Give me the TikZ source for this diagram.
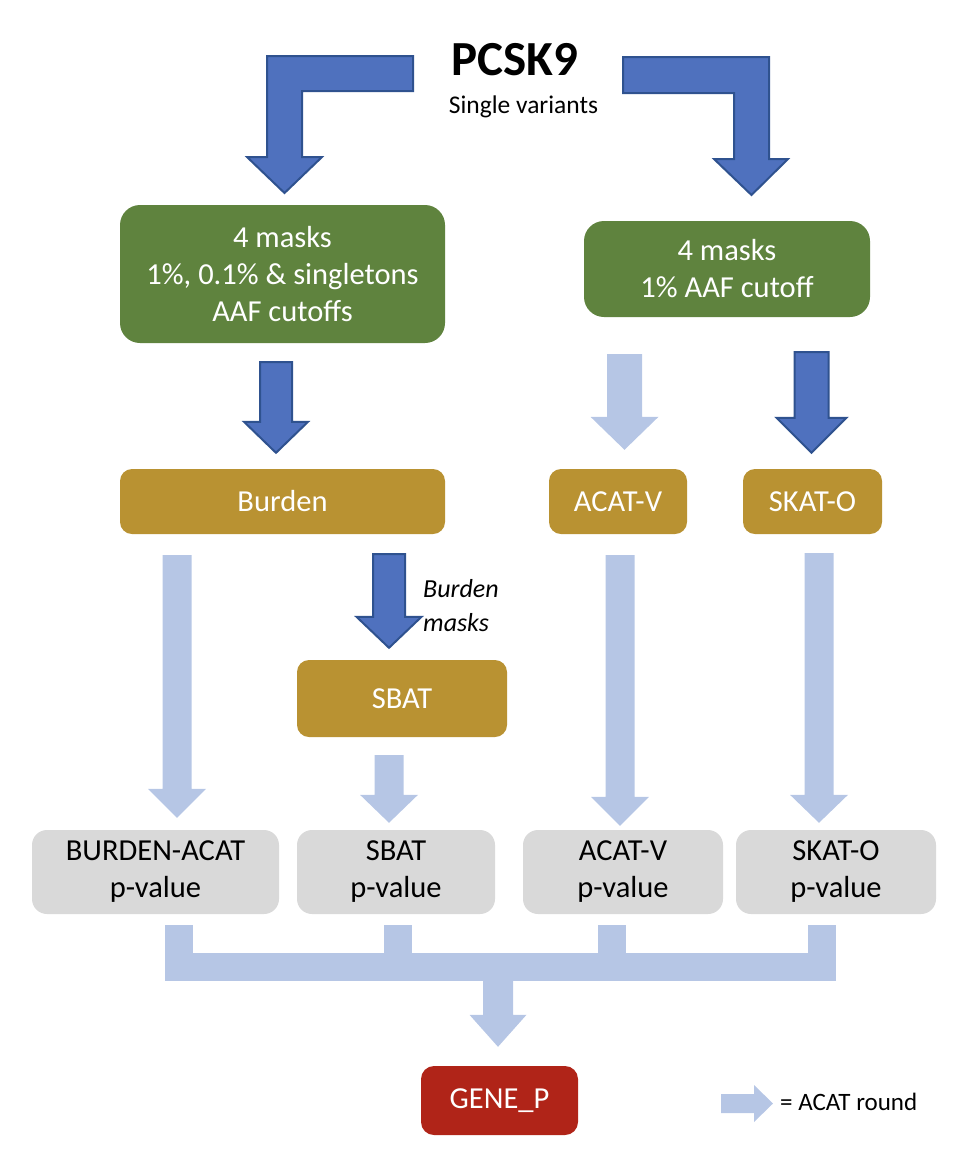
\documentclass[tikz,border=0pt]{standalone}
\usepackage{fontspec}
\setmainfont{Carlito}
\usetikzlibrary{calc}
\usetikzlibrary{positioning}

\definecolor{maskgreen}{RGB}{95,131,62}
\definecolor{testgold}{RGB}{185,146,50}
\definecolor{pgrey}{RGB}{217,217,217}
\definecolor{genered}{RGB}{176,36,24}
\definecolor{arrowblue}{RGB}{79,113,190}
\definecolor{arrowedge}{RGB}{47,82,143}
\definecolor{acatblue}{RGB}{182,198,229}

% vertical block arrow: [style]{top}{tip}{shaft half}{head half}{head length}
\newcommand{\blockdown}[6][]{%
  \path[#1] let \p1=(#2), \p2=(#3) in
    (\x1-#4pt,\y1) -- (\x1+#4pt,\y1) -- (\x1+#4pt,\y2+#6pt) -- (\x1+#5pt,\y2+#6pt)
    -- (\x1,\y2) -- (\x1-#5pt,\y2+#6pt) -- (\x1-#4pt,\y2+#6pt) -- cycle;}

\begin{document}
\begin{tikzpicture}[x=1pt,y=-1pt,
            box/.style = {rounded corners=12pt,inner sep=0pt,align=center,
                text=white,font=\fontsize{30.5}{37}\selectfont},
            maskbox/.style = {box,fill=maskgreen,rounded corners=20pt},
            testbox/.style = {box,fill=testgold,minimum height=65pt},
            pbox/.style = {box,fill=pgrey,text=black,rounded corners=15pt,
                minimum height=84pt},
            genebox/.style = {box,fill=genered,rounded corners=13pt},
            darkarrow/.style = {fill=arrowblue,draw=arrowedge,line width=2pt},
            acatarrow/.style = {fill=acatblue},
            acatline/.style = {draw=acatblue,line width=28pt}]
            \useasboundingbox (0,0) rectangle (964,1160);
            \node[anchor=base,inner sep=0pt,font=\fontsize{49}{52}\selectfont\bfseries]
                (pcsk9) at (515,75) {PCSK9};
            \node[anchor=base,inner sep=0pt,font=\fontsize{25.5}{30}\selectfont]
                (single) at (523.5,113) {Single variants};
            \node[maskbox,minimum width=325pt,minimum height=138pt] (masksL) at (282.5,274)
                {4 masks\\1\%, 0.1\% \& singletons\\AAF cutoffs};
            \node[maskbox,minimum width=286pt,minimum height=96pt] (masksR) at (727,269)
                {4 masks\\1\% AAF cutoff};
            \node[testbox,minimum width=325pt] (burden) at (282.5,501.5) {Burden};
            \node[testbox,minimum width=138pt] (acatv) at (618,501.5) {ACAT-V};
            \node[testbox,minimum width=139pt] (skato) at (812.5,501.5) {SKAT-O};
            \node[testbox,minimum width=210pt,minimum height=77pt] (sbat) at (402,698.5) {SBAT};
            \node[anchor=west,inner sep=0pt,align=left,font=\fontsize{26}{34}\selectfont\itshape]
                (bmasks) at (423,606) {Burden\\masks};
            \node[pbox,minimum width=247pt] (pburden) at (155.5,872) {BURDEN-ACAT\\p-value};
            \node[pbox,minimum width=198pt] (psbat) at (396,872) {SBAT\\p-value};
            \node[pbox,minimum width=200pt] (pacatv) at (623,872) {ACAT-V\\p-value};
            \node[pbox,minimum width=200pt] (pskato) at (836,872) {SKAT-O\\p-value};
            \node[genebox,minimum width=157pt,minimum height=69pt] (gene) at (499.5,1100.5) {GENE\_P};
            \node[anchor=base west,inner sep=0pt,font=\fontsize{25}{29}\selectfont]
                (legend) at (780,1110) {= ACAT round};
            % single variants split into the two mask sets
            \draw[darkarrow] (413,56) -- (267,56) -- (267,157) -- (247,157) -- (284.5,193)
                -- (322,157) -- (302,157) -- (302,91) -- (413,91) -- cycle;
            \draw[darkarrow] (623,57) -- (769,57) -- (769,159) -- (788,159) -- (751.5,195)
                -- (714,159) -- (734,159) -- (734,93) -- (623,93) -- cycle;
            \blockdown[darkarrow]{$(masksL.south)+(-6.5,19)$}{$(burden.north)+(-6.5,-16)$}{16}{32}{31}
            \blockdown[darkarrow]{$(sbat.north |- burden.south)+(-13,20)$}{$(sbat.north)+(-13,-12)$}{16}{32.5}{31}
            \blockdown[darkarrow]{$(skato.north |- masksR.south)+(-1,35)$}{$(skato.north)+(-1,-16)$}{17}{35}{35}
            \blockdown[acatarrow]{$(acatv.north |- masksR.south)+(6.5,37)$}{$(acatv.north)+(6.5,-19)$}{17.5}{34}{33}
            % ACAT rounds
            \blockdown[acatarrow]{$(burden.south)+(-105.5,21)$}{$(burden.south |- pburden.north)+(-105.5,-12)$}{14.5}{29}{29}
            \blockdown[acatarrow]{$(sbat.south)+(-13,18)$}{$(sbat.south |- psbat.north)+(-13,-7)$}{14.5}{29}{28}
            \blockdown[acatarrow]{$(acatv.south)+(2,21)$}{$(acatv.south |- pacatv.north)+(2,-4)$}{14.5}{29}{29}
            \blockdown[acatarrow]{$(skato.south)+(6.5,19)$}{$(skato.south |- pskato.north)+(6.5,-7)$}{14.5}{29}{28}
            \coordinate (join) at ($(gene.north)+(-1.5,-99)$);
            \draw[acatline] ($(pburden.south)+(23.5,11)$) |- (join);
            \draw[acatline] ($(pskato.south)+(-14,11)$) |- (join);
            \draw[acatline] ($(psbat.south)+(1.5,11)$) -- ++(0,42);
            \draw[acatline] ($(pacatv.south)+(-11.5,11)$) -- ++(0,42);
            \blockdown[acatarrow]{join}{$(gene.north)+(-1.5,-19)$}{15}{28.5}{32}
            \fill[acatarrow] let \p1=($(legend.base west)+(-7,-6.5)$) in
                (\x1,\y1) -- (\x1-19pt,\y1+18.5pt) -- (\x1-19pt,\y1+9.5pt) -- (\x1-52pt,\y1+9.5pt)
                -- (\x1-52pt,\y1-9.5pt) -- (\x1-19pt,\y1-9.5pt) -- (\x1-19pt,\y1-18.5pt) -- cycle;
        \end{tikzpicture}
\end{document}
